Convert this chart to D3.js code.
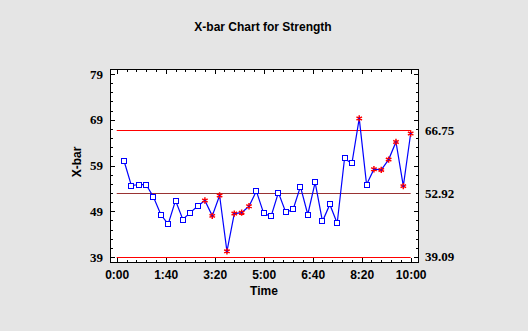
<!DOCTYPE html>
<html>
<head>
<meta charset="utf-8">
<script src="https://cdn.jsdelivr.net/npm/d3@7"></script>
<style>
  html, body { margin: 0; padding: 0; background: #e5e5e5; }
  svg { display: block; }
</style>
</head>
<body>
<svg id="chart" width="528" height="331"></svg>
<script>
// ---- data ----
const chartTitle = "X-bar Chart for Strength";
const xLabel = "Time";
const yLabel = "X-bar";
const sampleTimes = [15, 30, 45, 60, 75, 90, 105, 120, 135, 150,
                     165, 180, 195, 210, 225, 240, 255, 270, 285, 300,
                     315, 330, 345, 360, 375, 390, 405, 420, 435, 450,
                     465, 480, 495, 510, 525, 540, 555, 570, 585, 600];
const xbarValues = [60.0, 54.6, 54.85, 54.85, 52.1, 48.3, 46.2, 51.35, 47.2, 48.7,
                    50.1, 51.35, 48.0, 52.45, 40.25, 48.5, 48.7, 50.1, 53.4, 48.55,
                    47.9, 53.1, 48.8, 49.4, 54.4, 48.3, 55.3, 46.8, 50.5, 46.4,
                    60.55, 59.45, 69.3, 54.85, 58.2, 58.05, 60.3, 64.15, 54.5, 66.0];
const flagged = [0,0,0,0,0,0,0,0,0,0,
                 0,1,1,1,1,1,1,1,0,0,
                 0,0,0,0,0,0,0,0,0,0,
                 0,0,1,0,1,1,1,1,1,1];
const limitValues = [66.75, 52.92, 39.09];      // UCL, CL, LCL
const limitLabels = ["66.75", "52.92", "39.09"];
const limitSpan = [0, 600];
const xTicks = [0, 100, 200, 300, 400, 500, 600];
const xMinorTicks = [20, 40, 60, 80, 120, 140, 160, 180, 220, 240, 260, 280,
                     320, 340, 360, 380, 420, 440, 460, 480, 520, 540, 560, 580];
const yTicks = [39, 49, 59, 69, 79];
const yMinorTicks = [41, 43, 45, 47, 51, 53, 55, 57, 61, 63, 65, 67, 71, 73, 75, 77];

// ---- layout ----
const svg = d3.select("#chart");
const L = 110, R = 419, T = 69, B = 263;

const x = d3.scaleLinear().domain([-13.7, 617]).range([L, R]);
const y = d3.scaleLinear().domain([37.7, 80.1]).range([B, T]);

const fmtTime = d => Math.floor(d / 60) + ":" + String(d % 60).padStart(2, "0");

// plot background
svg.append("rect").attr("x", L).attr("y", T).attr("width", R - L).attr("height", B - T)
  .attr("fill", "#ffffff");

// title
svg.append("text").attr("x", 263).attr("y", 31).attr("text-anchor", "middle")
  .style("font", "bold 12px 'Liberation Sans', Arial, sans-serif").attr("fill", "#000")
  .text(chartTitle);

function styleAxis(g) {
  g.select(".domain").remove();
  g.selectAll("line").attr("stroke", "#000").attr("shape-rendering", "crispEdges");
}

// bottom axis
svg.append("g").attr("transform", `translate(0,${B})`)
  .call(d3.axisBottom(x).tickValues(xTicks).tickSize(-5).tickPadding(7).tickFormat(fmtTime))
  .call(styleAxis)
  .call(g => g.selectAll("text").attr("fill", "#000")
    .style("font", "bold 12px 'Liberation Sans', Arial, sans-serif"));
svg.append("g").attr("transform", `translate(0,${B})`)
  .call(d3.axisBottom(x).tickValues(xMinorTicks).tickSize(-3).tickFormat(""))
  .call(styleAxis);
// top axis
svg.append("g").attr("transform", `translate(0,${T})`)
  .call(d3.axisTop(x).tickValues(xTicks).tickSize(-5).tickFormat(""))
  .call(styleAxis);
svg.append("g").attr("transform", `translate(0,${T})`)
  .call(d3.axisTop(x).tickValues(xMinorTicks).tickSize(-3).tickFormat(""))
  .call(styleAxis);
// left axis
svg.append("g").attr("transform", `translate(${L},0)`)
  .call(d3.axisLeft(y).tickValues(yTicks).tickSize(-5).tickPadding(7))
  .call(styleAxis)
  .call(g => g.selectAll("text").attr("fill", "#000")
    .style("font", "bold 13px 'Liberation Serif', 'Times New Roman', serif"));
svg.append("g").attr("transform", `translate(${L},0)`)
  .call(d3.axisLeft(y).tickValues(yMinorTicks).tickSize(-3).tickFormat(""))
  .call(styleAxis);
// right axis
svg.append("g").attr("transform", `translate(${R},0)`)
  .call(d3.axisRight(y).tickValues(yTicks).tickSize(-5).tickFormat(""))
  .call(styleAxis);
svg.append("g").attr("transform", `translate(${R},0)`)
  .call(d3.axisRight(y).tickValues(yMinorTicks).tickSize(-3).tickFormat(""))
  .call(styleAxis);

// frame
svg.append("rect").attr("x", L + 0.5).attr("y", T + 0.5).attr("width", R - L - 1).attr("height", B - T - 1)
  .attr("fill", "none").attr("stroke", "#000").attr("stroke-width", 1);

// axis titles
svg.append("text").attr("x", 264).attr("y", 295).attr("text-anchor", "middle")
  .style("font", "bold 12px 'Liberation Sans', Arial, sans-serif").attr("fill", "#000")
  .text(xLabel);
svg.append("text").attr("transform", "translate(81,162) rotate(-90)").attr("text-anchor", "middle")
  .style("font", "bold 12px 'Liberation Sans', Arial, sans-serif").attr("fill", "#000")
  .text(yLabel);

// control limit lines
const limitColors = ["#ff0000", "#993333", "#ff0000"];
limitValues.forEach((v, i) => {
  const yy = Math.round(y(v)) + 0.5;
  svg.append("line").attr("x1", x(limitSpan[0])).attr("x2", x(limitSpan[1]))
    .attr("y1", yy).attr("y2", yy)
    .attr("stroke", limitColors[i]).attr("stroke-width", 1);
  svg.append("text").attr("x", 425).attr("y", y(v)).attr("dy", "0.35em")
    .style("font", "bold 13px 'Liberation Serif', 'Times New Roman', serif").attr("fill", "#000")
    .text(limitLabels[i]);
});

// data line
const pts = sampleTimes.map((t, i) => ({ t, v: xbarValues[i], f: flagged[i] }));
svg.append("path").datum(pts)
  .attr("d", d3.line().x(d => x(d.t)).y(d => y(d.v)))
  .attr("fill", "none").attr("stroke", "#0000ff").attr("stroke-width", 1.2);

// markers
svg.selectAll("rect.pt").data(pts.filter(d => !d.f)).join("rect").attr("class", "pt")
  .attr("x", d => Math.round(x(d.t)) - 2.5).attr("y", d => Math.round(y(d.v)) - 2.5)
  .attr("width", 5).attr("height", 5)
  .attr("fill", "#fff").attr("stroke", "#0000ff").attr("stroke-width", 1);

svg.selectAll("path.star").data(pts.filter(d => d.f)).join("path").attr("class", "star")
  .attr("transform", d => `translate(${x(d.t)},${y(d.v)})`)
  .attr("d", d3.symbol(d3.symbolAsterisk, 28))
  .attr("fill", "none").attr("stroke", "#ff0000").attr("stroke-width", 1.5);
svg.selectAll("circle.starc").data(pts.filter(d => d.f)).join("circle").attr("class", "starc")
  .attr("cx", d => x(d.t)).attr("cy", d => y(d.v)).attr("r", 0.8).attr("fill", "#0000ff");
</script>
</body>
</html>
